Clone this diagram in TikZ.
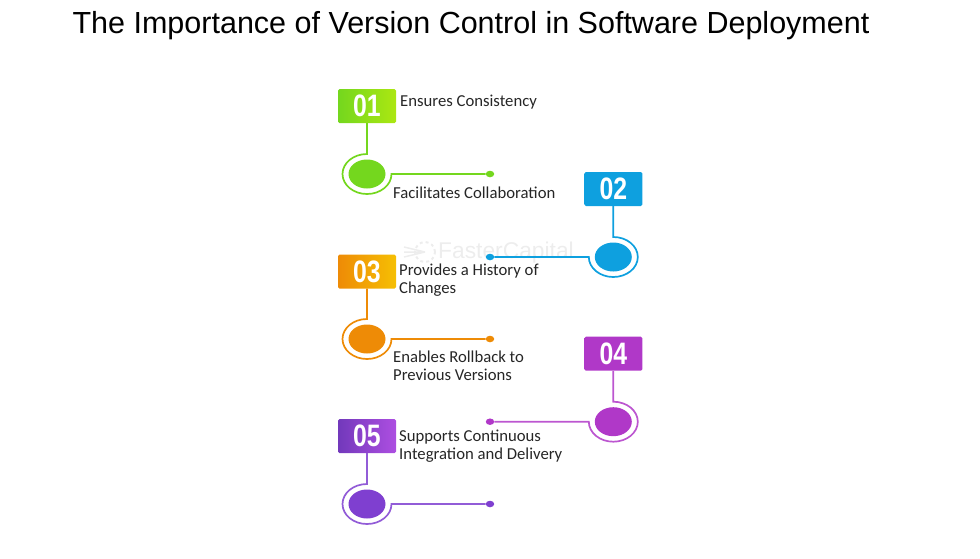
\documentclass[tikz,border=0pt]{standalone}
\usepackage{fontspec}
\setmainfont{Carlito}
\newfontfamily\titlefont{Liberation Sans}
\newfontfamily\numfont[FakeStretch=0.8]{Liberation Sans Bold}
\usetikzlibrary{shapes.geometric}

\begin{document}
\begin{tikzpicture}[
            x=1pt, y=-1pt,
            every node/.style={align=left, font=\fontsize{16.7}{17.8}\selectfont, text=black!85}
        ]

        % Define styles for nodes
        \tikzset{
            numbox/.style={rectangle, rounded corners=1.5pt, minimum width=58pt, minimum height=34pt, inner sep=0pt, text=white, font=\numfont\fontsize{31}{31}\selectfont},
            disc/.style={ellipse, inner sep=0pt, minimum width=37pt, minimum height=29pt},
            enddot/.style={ellipse, inner sep=0pt, minimum width=8.5pt, minimum height=6.5pt},
            stem/.style={line width=1.7pt},
            caption/.style={anchor=west, inner sep=0pt}
        }
        \definecolor{greenA}{HTML}{74D71E}
        \definecolor{blueB}{HTML}{0EA0DF}
        \definecolor{orangeC}{HTML}{EE8B06}
        \definecolor{purpleD}{HTML}{B038C8}
        \definecolor{violetE}{HTML}{7F3FD0}

        \useasboundingbox (0,0) rectangle (980,558);

        % Faint logo behind the middle of the chart
        \node[circle, draw=black!7, dashed, line width=2pt, minimum size=20pt, inner sep=0pt] (logo) at (425,252) {};
        \draw[black!7, line width=1.5pt] (404,247) -- (logo.center) (404,252) -- (logo.center) (404,257) -- (logo.center);
        \node[caption, text=black!7, font=\titlefont\fontsize{22.8}{23}\selectfont] (wmark) at (438,253) {FasterCapital};

        % Title
        \node[font=\titlefont\fontsize{30.5}{32}\selectfont, text=black] (title) at (471,26) {The Importance of Version Control in Software Deployment};

        % Step 01
        \node[numbox, left color=greenA, right color=greenA!60!yellow] (numA) at (367,106) {01};
        \node[disc, fill=greenA] (discA) at (367,174) {};
        \node[enddot, fill=greenA] (dotA) at (490,174) {};
        \coordinate (ringA) at (367,154);
        \draw[stem, greenA] (numA.south) -- (ringA) arc[start angle=90, delta angle=270, x radius=24.5pt, y radius=20pt] -- (dotA);
        \node[caption] (textA) at (400,102) {Ensures Consistency};

        % Step 02
        \node[numbox, left color=blueB, middle color=blueB!70!white, right color=blueB] (numB) at (613.3,189) {02};
        \node[disc, fill=blueB] (discB) at (613.3,257) {};
        \node[enddot, fill=blueB] (dotB) at (490,257) {};
        \coordinate (ringB) at (613.3,237);
        \draw[stem, blueB] (numB.south) -- (ringB) arc[start angle=90, delta angle=-270, x radius=24.5pt, y radius=20pt] -- (dotB);
        \node[caption] (textB) at (393,193) {Facilitates Collaboration};

        % Step 03
        \node[numbox, left color=orangeC, right color=orangeC!55!yellow] (numC) at (367,271.5) {03};
        \node[disc, fill=orangeC] (discC) at (367,339) {};
        \node[enddot, fill=orangeC] (dotC) at (490,339) {};
        \coordinate (ringC) at (367,319);
        \draw[stem, orangeC] (numC.south) -- (ringC) arc[start angle=90, delta angle=270, x radius=24.5pt, y radius=20pt] -- (dotC);
        \node[caption] (textC) at (399,280) {Provides a History of\\Changes};

        % Step 04
        \node[numbox, left color=purpleD, middle color=purpleD!65!magenta!80!white, right color=purpleD] (numD) at (613.3,353.7) {04};
        \node[disc, fill=purpleD] (discD) at (613.3,421.7) {};
        \node[enddot, fill=purpleD] (dotD) at (490,421.7) {};
        \coordinate (ringD) at (613.3,401.7);
        \draw[stem, purpleD!85!white] (numD.south) -- (ringD) arc[start angle=90, delta angle=-270, x radius=24.5pt, y radius=20pt] -- (dotD);
        \node[caption] (textD) at (393,366) {Enables Rollback to\\Previous Versions};

        % Step 05
        \node[numbox, left color=violetE!90!black, right color=violetE!75!magenta!85!white] (numE) at (367,436) {05};
        \node[disc, fill=violetE] (discE) at (367,504) {};
        \node[enddot, fill=violetE] (dotE) at (490,504) {};
        \coordinate (ringE) at (367,484);
        \draw[stem, violetE!85!white] (numE.south) -- (ringE) arc[start angle=90, delta angle=270, x radius=24.5pt, y radius=20pt] -- (dotE);
        \node[caption] (textE) at (399,446) {Supports Continuous\\Integration and Delivery};

\end{tikzpicture}
\end{document}
